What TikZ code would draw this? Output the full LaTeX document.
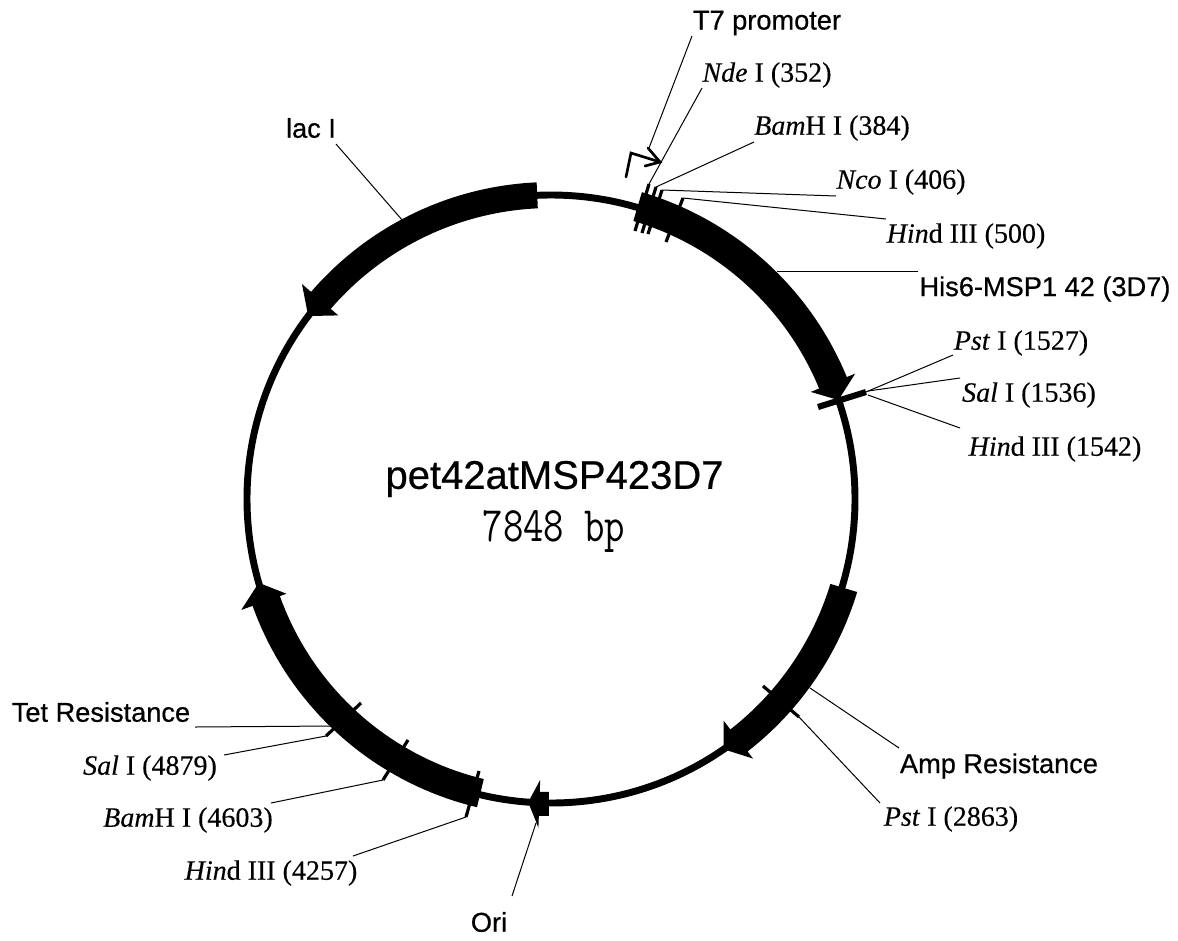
\documentclass[tikz,border=0pt]{standalone}
\usepackage{fontspec}
\setmainfont{Liberation Serif}[FakeBold=0.25]
\setsansfont{Liberation Sans}[FakeBold=0.6]
\newcommand{\rs}[1]{\textit{#1}}
\newcommand{\featband}[5]{%
  \fill[black] (#1:#5) -- plot[domain=#1:#2,samples=40] (\x:#5) -- (#2:329) -- (#3:304) -- (#2:281)
    -- plot[domain=#2:#1,samples=40] (\x:#4) -- cycle;}
\tikzset{
  ring/.style={draw=black,line width=5.2pt},
  leader/.style={draw=black,line width=0.75pt},
  sitetick/.style={draw=black,line width=2.4pt},
  featlabel/.style={font=\sffamily\fontsize{20.4}{24}\selectfont,inner sep=0pt,text=black},
  sitelabel/.style={font=\rmfamily\fontsize{21}{25}\selectfont,inner sep=0pt,text=black},
  promoter/.style={draw=black,line width=2pt,line cap=round,line join=miter}
}
\begin{document}
\begin{tikzpicture}[x=0.75pt,y=-0.75pt]
\useasboundingbox[fill=white] (0,0) rectangle (1178,940);
% plasmid ring
\coordinate (ctr) at (551,499);
\draw[ring] (ctr) circle [radius=304];
% features
\begin{scope}[shift={(551,499)}]
\featband{-73.5}{-22.4}{-19}{290}{320}
\featband{16.9}{52.1}{55.4}{292}{320}
\featband{90.4}{92.2}{94.3}{293}{317}
\featband{103.5}{160.3}{164}{288}{317}
\featband{267.4}{220.8}{217}{291}{317}
\end{scope}
% labels
\node[featlabel] (t7) at (767,23) {T7 promoter};
\node[sitelabel] (nde) at (767,75) {\rs{Nde} I (352)};
\node[sitelabel] (bam1) at (832,128) {\rs{Bam}H I (384)};
\node[sitelabel] (nco) at (901,182) {\rs{Nco} I (406)};
\node[sitelabel] (hind1) at (966,236) {\rs{Hin}d III (500)};
\node[featlabel] (his) at (1045,289) {His6-MSP1 42 (3D7)};
\node[sitelabel] (pst1) at (1021,343) {\rs{Pst} I (1527)};
\node[sitelabel] (sal1) at (1029,395) {\rs{Sal} I (1536)};
\node[sitelabel] (hind2) at (1055,449) {\rs{Hin}d III (1542)};
\node[featlabel] (amp) at (999,766) {Amp Resistance};
\node[sitelabel] (pst2) at (951,819) {\rs{Pst} I (2863)};
\node[featlabel] (ori) at (489,922) {Ori};
\node[sitelabel] (hind3) at (271,873) {\rs{Hin}d III (4257)};
\node[sitelabel] (bam2) at (188,820) {\rs{Bam}H I (4603)};
\node[sitelabel] (sal2) at (150,768) {\rs{Sal} I (4879)};
\node[featlabel] (tet) at (101,712) {Tet Resistance};
\node[featlabel] (lac) at (311,128) {lac I};
\node[inner sep=0pt,font=\sffamily\fontsize{30}{34}\selectfont] (title) at (554.5,479) {pet42atMSP423D7};
\node[inner sep=0pt,font=\ttfamily\fontsize{29.7}{34}\selectfont] (size) at (554,531) {\scalebox{1}[1.25]{7848 bp}};
% tick end points
\coordinate (tA) at (649,184); \coordinate (tAb) at (635,231);
\coordinate (tB) at (656,187); \coordinate (tBb) at (642,233);
\coordinate (tC) at (662,190); \coordinate (tCb) at (648,234);
\coordinate (tD) at (683,198); \coordinate (tDb) at (666,242);
\coordinate (bA) at (818,407); \coordinate (bB) at (866,392);
\coordinate (pA) at (763,686); \coordinate (pB) at (799,717);
\coordinate (eA) at (361,703); \coordinate (eB) at (326,736);
\coordinate (eC) at (408,740); \coordinate (eD) at (383,780);
\coordinate (eE) at (479,771); \coordinate (eF) at (466,817);
% ticks
\draw[sitetick] (tA) -- (tAb);
\draw[sitetick] (tB) -- (tBb);
\draw[sitetick] (tC) -- (tCb);
\draw[sitetick] (tD) -- (tDb);
\draw[draw=black,line width=4.6pt] (bA) -- (bB);
\draw[sitetick] (pA) -- (pB);
\draw[sitetick] (eA) -- (eB);
\draw[sitetick] (eC) -- (eD);
\draw[sitetick] (eE) -- (eF);
% free ends of leaders, next to the labels
\coordinate (lT7) at (692,36); \coordinate (pT7) at (649,148);
\coordinate (lNde) at (702,88);
\coordinate (lBam) at (754,142);
\coordinate (lNco) at (836,196);
\coordinate (lHind) at (886,219);
\coordinate (lHis) at (918,271); \coordinate (pHis) at (777,271);
\coordinate (lPst) at (953,355); \coordinate (lSal) at (960,378); \coordinate (lHind2) at (960,428);
\coordinate (pSal) at (868,391); \coordinate (pHind2) at (868,395);
\coordinate (lAmp) at (899,748); \coordinate (pAmp) at (810,688);
\coordinate (lPst2) at (880,803);
\coordinate (lTet) at (195,727); \coordinate (pTet) at (332,726);
\coordinate (lSal2) at (224,755);
\coordinate (lBam2) at (271,803);
\coordinate (lHind3) at (353,856);
\coordinate (lOri) at (512,896); \coordinate (pOri) at (536,823);
\coordinate (lLac) at (336,144); \coordinate (pLac) at (403,221);
% leaders
\draw[leader] (lT7) -- (pT7);
\draw[leader] (lNde) -- (tA);
\draw[leader] (lBam) -- (tB);
\draw[leader] (lNco) -- (tC);
\draw[leader] (lHind) -- (tD);
\draw[leader] (lHis) -- (pHis);
\draw[leader] (lPst) -- (bB);
\draw[leader] (lSal) -- (pSal);
\draw[leader] (lHind2) -- (pHind2);
\draw[leader] (lAmp) -- (pAmp);
\draw[leader] (lPst2) -- (pB);
\draw[leader] (lTet) -- (pTet);
\draw[leader] (lSal2) -- (eB);
\draw[leader] (lBam2) -- (eD);
\draw[leader] (lHind3) -- (eF);
\draw[leader] (lOri) -- (pOri);
\draw[leader] (lLac) -- (pLac);
% T7 promoter bent arrow
\coordinate (pr0) at (626,177); \coordinate (pr1) at (631,153); \coordinate (pr2) at (660,162);
\coordinate (prA) at (648,148); \coordinate (prB) at (645,166);
\draw[promoter] (pr0) -- (pr1) -- (pr2);
\draw[promoter] (prA) -- (pr2) -- (prB);
\end{tikzpicture}
\end{document}
